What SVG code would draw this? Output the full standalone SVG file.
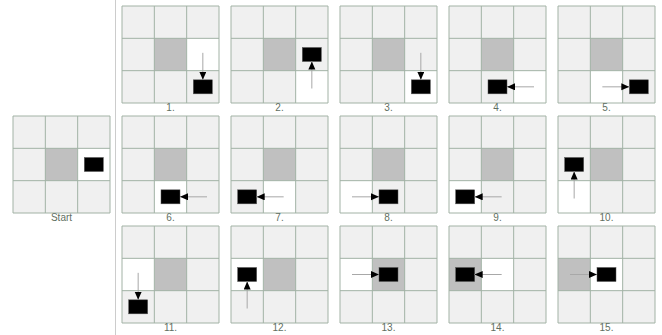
<svg xmlns="http://www.w3.org/2000/svg" xmlns:xlink="http://www.w3.org/1999/xlink" width="662" height="335" viewBox="0 0 662 335">
<style>
.bg{fill:#f0f0f0}
.w{fill:#ffffff}
.g{fill:#c0c0c0}
.gl{fill:none;stroke:#a2b2a5;stroke-width:1}
.blk{fill:#000;stroke:#555;stroke-width:0.5}
.lbl{font-family:"Liberation Sans",Arial,sans-serif;font-size:10px;fill:#5f6f62;text-anchor:middle}
.arr{stroke:#a8a8a8;stroke-width:1;fill:none;marker-end:url(#ah)}
</style>
<defs>
<marker id="ah" markerUnits="userSpaceOnUse" markerWidth="8" markerHeight="8" refX="8" refY="3.5" orient="auto">
<path d="M0,0 L8,3.5 L0,7 Z" fill="#000"/>
</marker>
<rect id="bgr" class="bg" width="97" height="97"/>
<path id="lines" class="gl" d="M0 0H97V97H0Z M32.33 0V97 M64.67 0V97 M0 32.33H97 M0 64.67H97"/>
</defs>
<rect width="662" height="335" fill="#fff"/>
<line x1="115.5" y1="0" x2="115.5" y2="335" stroke="#cccccc" stroke-width="1"/>

<g id="start" transform="translate(13,116)">
<use xlink:href="#bgr"/><rect class="g" x="32.33" y="32.33" width="32.33" height="32.33"/><rect class="w" x="64.67" y="32.33" width="32.33" height="32.33"/>
<use xlink:href="#lines"/><rect class="blk" x="71.33" y="41.5" width="19" height="14"/>
<text class="lbl" x="48.5" y="105">Start</text>
</g>

<g id="s1" transform="translate(122,6)">
<use xlink:href="#bgr"/><rect class="g" x="32.33" y="32.33" width="32.33" height="32.33"/><rect class="w" x="64.67" y="32.33" width="32.33" height="32.33"/>
<use xlink:href="#lines"/><rect class="blk" x="71.33" y="73.83" width="19" height="14"/>
<text class="lbl" x="48.5" y="105">1.</text>
</g>
<g id="s2" transform="translate(231,6)">
<use xlink:href="#bgr"/><rect class="g" x="32.33" y="32.33" width="32.33" height="32.33"/><rect class="w" x="64.67" y="64.67" width="32.33" height="32.33"/>
<use xlink:href="#lines"/><rect class="blk" x="71.33" y="41.5" width="19" height="14"/>
<text class="lbl" x="48.5" y="105">2.</text>
</g>
<g id="s3" transform="translate(340,6)">
<use xlink:href="#bgr"/><rect class="g" x="32.33" y="32.33" width="32.33" height="32.33"/><rect class="w" x="64.67" y="64.67" width="32.33" height="32.33"/>
<use xlink:href="#lines"/><rect class="blk" x="71.33" y="73.83" width="19" height="14"/>
<text class="lbl" x="48.5" y="105">3.</text>
</g>
<g id="s4" transform="translate(449,6)">
<use xlink:href="#bgr"/><rect class="g" x="32.33" y="32.33" width="32.33" height="32.33"/><rect class="w" x="64.67" y="64.67" width="32.33" height="32.33"/>
<use xlink:href="#lines"/><rect class="blk" x="39" y="73.83" width="19" height="14"/>
<text class="lbl" x="48.5" y="105">4.</text>
</g>
<g id="s5" transform="translate(558,6)">
<use xlink:href="#bgr"/><rect class="g" x="32.33" y="32.33" width="32.33" height="32.33"/><rect class="w" x="32.33" y="64.67" width="32.33" height="32.33"/>
<use xlink:href="#lines"/><rect class="blk" x="71.33" y="73.83" width="19" height="14"/>
<text class="lbl" x="48.5" y="105">5.</text>
</g>

<g id="s6" transform="translate(122,116)">
<use xlink:href="#bgr"/><rect class="g" x="32.33" y="32.33" width="32.33" height="32.33"/><rect class="w" x="32.33" y="64.67" width="32.33" height="32.33"/>
<use xlink:href="#lines"/><rect class="blk" x="39" y="73.83" width="19" height="14"/>
<text class="lbl" x="48.5" y="105">6.</text>
</g>
<g id="s7" transform="translate(231,116)">
<use xlink:href="#bgr"/><rect class="g" x="32.33" y="32.33" width="32.33" height="32.33"/><rect class="w" x="32.33" y="64.67" width="32.33" height="32.33"/>
<use xlink:href="#lines"/><rect class="blk" x="6.67" y="73.83" width="19" height="14"/>
<text class="lbl" x="48.5" y="105">7.</text>
</g>
<g id="s8" transform="translate(340,116)">
<use xlink:href="#bgr"/><rect class="g" x="32.33" y="32.33" width="32.33" height="32.33"/><rect class="w" x="0" y="64.67" width="32.33" height="32.33"/>
<use xlink:href="#lines"/><rect class="blk" x="39" y="73.83" width="19" height="14"/>
<text class="lbl" x="48.5" y="105">8.</text>
</g>
<g id="s9" transform="translate(449,116)">
<use xlink:href="#bgr"/><rect class="g" x="32.33" y="32.33" width="32.33" height="32.33"/><rect class="w" x="0" y="64.67" width="32.33" height="32.33"/>
<use xlink:href="#lines"/><rect class="blk" x="6.67" y="73.83" width="19" height="14"/>
<text class="lbl" x="48.5" y="105">9.</text>
</g>
<g id="s10" transform="translate(558,116)">
<use xlink:href="#bgr"/><rect class="g" x="32.33" y="32.33" width="32.33" height="32.33"/><rect class="w" x="0" y="64.67" width="32.33" height="32.33"/>
<use xlink:href="#lines"/><rect class="blk" x="6.67" y="41.5" width="19" height="14"/>
<text class="lbl" x="48.5" y="105">10.</text>
</g>

<g id="s11" transform="translate(122,226)">
<use xlink:href="#bgr"/><rect class="g" x="32.33" y="32.33" width="32.33" height="32.33"/><rect class="w" x="0" y="32.33" width="32.33" height="32.33"/>
<use xlink:href="#lines"/><rect class="blk" x="6.67" y="73.83" width="19" height="14"/>
<text class="lbl" x="48.5" y="105">11.</text>
</g>
<g id="s12" transform="translate(231,226)">
<use xlink:href="#bgr"/><rect class="g" x="32.33" y="32.33" width="32.33" height="32.33"/><rect class="w" x="0" y="32.33" width="32.33" height="32.33"/>
<use xlink:href="#lines"/><rect class="blk" x="6.67" y="41.5" width="19" height="14"/>
<text class="lbl" x="48.5" y="105">12.</text>
</g>
<g id="s13" transform="translate(340,226)">
<use xlink:href="#bgr"/><rect class="g" x="32.33" y="32.33" width="32.33" height="32.33"/><rect class="w" x="0" y="32.33" width="32.33" height="32.33"/>
<use xlink:href="#lines"/><rect class="blk" x="39" y="41.5" width="19" height="14"/>
<text class="lbl" x="48.5" y="105">13.</text>
</g>
<g id="s14" transform="translate(449,226)">
<use xlink:href="#bgr"/><rect class="g" x="0" y="32.33" width="32.33" height="32.33"/><rect class="w" x="32.33" y="32.33" width="32.33" height="32.33"/>
<use xlink:href="#lines"/><rect class="blk" x="6.67" y="41.5" width="19" height="14"/>
<text class="lbl" x="48.5" y="105">14.</text>
</g>
<g id="s15" transform="translate(558,226)">
<use xlink:href="#bgr"/><rect class="g" x="0" y="32.33" width="32.33" height="32.33"/><rect class="w" x="32.33" y="32.33" width="32.33" height="32.33"/>
<use xlink:href="#lines"/><rect class="blk" x="39" y="41.5" width="19" height="14"/>
<text class="lbl" x="48.5" y="105">15.</text>
</g>

<g id="connectors">
<line class="arr" x1="202.83" y1="52.83" x2="202.83" y2="79.83"/>
<line class="arr" x1="311.83" y1="88.5" x2="311.83" y2="61.5"/>
<line class="arr" x1="420.83" y1="52.83" x2="420.83" y2="79.83"/>
<line class="arr" x1="534" y1="86.83" x2="507" y2="86.83"/>
<line class="arr" x1="602.33" y1="86.83" x2="629.33" y2="86.83"/>
<line class="arr" x1="207" y1="196.83" x2="180" y2="196.83"/>
<line class="arr" x1="283.67" y1="196.83" x2="256.67" y2="196.83"/>
<line class="arr" x1="352" y1="196.83" x2="379" y2="196.83"/>
<line class="arr" x1="501.67" y1="196.83" x2="474.67" y2="196.83"/>
<line class="arr" x1="574.17" y1="198.5" x2="574.17" y2="171.5"/>
<line class="arr" x1="138.17" y1="272.83" x2="138.17" y2="299.83"/>
<line class="arr" x1="247.17" y1="308.5" x2="247.17" y2="281.5"/>
<line class="arr" x1="352" y1="274.5" x2="379" y2="274.5"/>
<line class="arr" x1="501.67" y1="274.5" x2="474.67" y2="274.5"/>
<line class="arr" x1="570" y1="274.5" x2="597" y2="274.5"/>
</g>
</svg>
